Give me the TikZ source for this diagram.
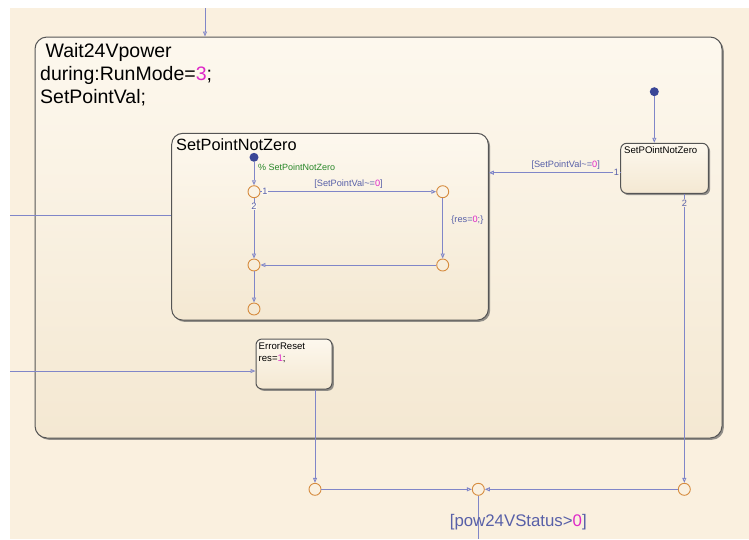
\documentclass[tikz,border=0pt]{standalone}
\usepackage{fontspec}
\setmainfont{Liberation Sans}
\usetikzlibrary{arrows.meta,shadows}
\definecolor{bg}{RGB}{250,240,223}
\definecolor{sttop}{RGB}{253,248,238}
\definecolor{stbot}{RGB}{244,232,210}
\definecolor{stbd}{RGB}{85,85,85}
\definecolor{trc}{RGB}{128,134,200}
\definecolor{lbl}{RGB}{88,96,168}
\definecolor{junc}{RGB}{214,140,64}
\definecolor{dotc}{RGB}{58,70,150}
\definecolor{cmt}{RGB}{40,135,40}
\definecolor{mag}{RGB}{222,40,200}
\tikzset{
  stbox/.style={draw=stbd, line width=1pt, top color=sttop, bottom color=stbot,
    inner sep=0pt, drop shadow={shadow xshift=1.8pt, shadow yshift=-1.8pt, fill=black!60, opacity=0.7}},
  jn/.style={circle, draw=junc, line width=0.9pt, minimum size=12pt, inner sep=0pt},
  dfdot/.style={circle, fill=dotc, minimum size=9pt, inner sep=0pt},
  tr/.style={draw=trc, line width=0.9pt, -{Triangle[open, length=5pt, width=4pt]}},
  trp/.style={draw=trc, line width=0.9pt},
  txt/.style={anchor=base west, inner sep=0pt},
  lab/.style={text=lbl, inner sep=0.5pt, font=\fontsize{9.2}{10}\selectfont},
}
\begin{document}
\begin{tikzpicture}[x=1pt,y=-1pt]
\useasboundingbox (0,0) rectangle (749,539);
\fill[white] (0,0) rectangle (749,539);
\fill[bg] (10,8) rectangle (749,539);

% outer state
\node[stbox, rounded corners=12pt, minimum width=687pt, minimum height=401pt] (outer) at (378.5,237.5) {};
\node[txt, font=\fontsize{19.5}{23.5}\selectfont] (t1) at (40,57) {\ Wait24Vpower};
\node[txt, font=\fontsize{19.5}{23.5}\selectfont] (t2) at (40,80) {during:RunMode=\textcolor{mag}{3};};
\node[txt, font=\fontsize{19.5}{23.5}\selectfont] (t3) at (40,103) {SetPointVal;};

% SetPointNotZero state
\node[stbox, rounded corners=11pt, minimum width=316.6pt, minimum height=186.7pt] (spnz) at (330,226.7) {};
\node[txt, font=\fontsize{16.3}{19}\selectfont] (spnzt) at (176,150) {SetPointNotZero};
\node[dfdot] (dot1) at (254,157.3) {};
\node[txt, text=cmt, font=\fontsize{9}{10}\selectfont] (cm) at (258,170) {\% SetPointNotZero};
\node[jn] (j1) at (254,191.7) {};
\node[jn] (j2) at (442.7,191.7) {};
\node[jn] (j3) at (254,265) {};
\node[jn] (j4) at (442.7,265) {};
\node[jn] (j5) at (254,309) {};
\draw[tr] (dot1) -- (j1);
\draw[tr] (j1) -- (j2);
\draw[tr] (j1) -- (j3);
\draw[tr] (j2) -- (j4);
\draw[tr] (j4) -- (j3);
\draw[tr] (j3) -- (j5);
\node[lab, anchor=base] (l1) at (348.5,186) {[SetPointVal\textasciitilde=\textcolor{mag}{0}]};
\node[lab, fill=sttop] (n1) at (265,191.7) {1};
\node[lab, fill=sttop] (n2) at (254,206.5) {2};
\node[lab, anchor=base west] (l2) at (450.7,222) {\{res=\textcolor{mag}{0};\}};

% SetPOintNotZero state
\node[stbox, rounded corners=6pt, minimum width=87.6pt, minimum height=50pt] (sp2) at (664.5,168.3) {};
\node[txt, font=\fontsize{9.6}{11}\selectfont] (sp2t) at (624,153.3) {SetPOintNotZero};
\node[dfdot] (dot2) at (654.3,91.7) {};
\draw[tr] (dot2) -- (dot2 |- sp2.north);
\coordinate (s2o) at (620.7,172.7);
\draw[tr] (s2o) -- (s2o -| spnz.east);
\node[lab, anchor=base] (l3) at (565.7,167) {[SetPointVal\textasciitilde=\textcolor{mag}{0}]};
\node[lab, fill=stbot!40!sttop] (n3) at (616.5,172.7) {1};

% ErrorReset state
\node[stbox, rounded corners=6pt, minimum width=76pt, minimum height=50pt] (err) at (294,364) {};
\node[txt, font=\fontsize{9.6}{11}\selectfont] (errt) at (258.5,349.5) {ErrorReset};
\node[txt, font=\fontsize{9.6}{11}\selectfont] (errt2) at (258.5,361.5) {res=\textcolor{mag}{1};};

% bottom junctions
\node[jn] (jL) at (315,489.3) {};
\node[jn] (jC) at (478.3,489.3) {};
\node[jn] (jR) at (684.3,489.3) {};
\draw[tr] (jR |- sp2.south) -- (jR);
\node[lab, fill=stbot!60!sttop] (n4) at (684.3,203) {2};
\draw[tr] (jL |- err.south) -- (jL);
\draw[tr] (jL) -- (jC);
\draw[tr] (jR) -- (jC);
\coordinate (bot) at (478.3,539);
\draw[trp] (jC) -- (bot);
\node[anchor=base, text=lbl, inner sep=0pt, font=\fontsize{16.8}{19}\selectfont] (l4) at (518.3,526.7) {[pow24VStatus>\textcolor{mag}{0}]};

% incoming / external connectors
\coordinate (topin) at (205,8);
\draw[tr] (topin) -- (topin |- outer.north);
\coordinate (L1) at (10,215);
\draw[trp] (L1) -- (L1 -| spnz.west);
\coordinate (L2) at (10,371);
\draw[tr] (L2) -- (L2 -| err.west);
\end{tikzpicture}
\end{document}
